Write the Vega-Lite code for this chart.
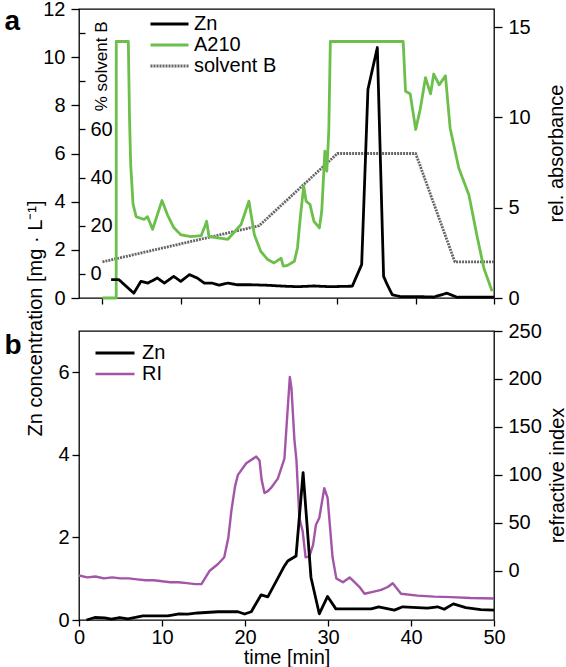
{
  "$schema": "https://vega.github.io/schema/vega-lite/v6.json",
  "background": "white",
  "padding": {"left": 3, "top": -2, "right": 0, "bottom": 0},
  "spacing": 33,
  "bounds": "flush",
  "config": {
    "font": "Liberation Sans",
    "view": {"stroke": "black", "strokeWidth": 1.3},
    "axis": {"grid": false, "domain": false, "labelFlush": false, "tickColor": "black", "tickWidth": 1.3, "labelColor": "black", "titleColor": "black", "labelFontSize": 20, "titleFontSize": 20, "titleFontWeight": "normal", "labelFont": "Liberation Sans", "titleFont": "Liberation Sans"},
    "legend": {"labelFontSize": 20, "labelFont": "Liberation Sans", "labelColor": "black"},
    "line": {"strokeJoin": "round"}
  },
  "datasets": {
    "top": [
      {"s":"Zn","t":1.1,"v":0.76},{"s":"Zn","t":2.1,"v":0.76},{"s":"Zn","t":4.0,"v":0.2},{"s":"Zn","t":4.9,"v":0.69},{"s":"Zn","t":5.8,"v":0.62},{"s":"Zn","t":7.0,"v":0.83},{"s":"Zn","t":7.9,"v":0.62},{"s":"Zn","t":9.1,"v":0.9},{"s":"Zn","t":10,"v":0.69},{"s":"Zn","t":11.1,"v":0.97},{"s":"Zn","t":12.1,"v":0.83},{"s":"Zn","t":13,"v":0.62},{"s":"Zn","t":14,"v":0.62},{"s":"Zn","t":14.9,"v":0.53},{"s":"Zn","t":16,"v":0.62},{"s":"Zn","t":17.2,"v":0.55},{"s":"Zn","t":18.9,"v":0.55},{"s":"Zn","t":21,"v":0.53},{"s":"Zn","t":23.2,"v":0.49},{"s":"Zn","t":25,"v":0.47},{"s":"Zn","t":27,"v":0.5},{"s":"Zn","t":29,"v":0.47},{"s":"Zn","t":31.9,"v":0.49},{"s":"Zn","t":33.1,"v":1.39},{"s":"Zn","t":33.9,"v":8.66},{"s":"Zn","t":35.1,"v":10.4},{"s":"Zn","t":35.9,"v":0.9},{"s":"Zn","t":36.3,"v":0.6},{"s":"Zn","t":37,"v":0.14},{"s":"Zn","t":38,"v":0.06},{"s":"Zn","t":40,"v":0.06},{"s":"Zn","t":42.3,"v":0.04},{"s":"Zn","t":44,"v":0.2},{"s":"Zn","t":45.3,"v":0.03},{"s":"Zn","t":47,"v":0.04},{"s":"Zn","t":50,"v":0.04},
      {"s":"A210","t":0,"v":0},{"s":"A210","t":1.75,"v":0},{"s":"A210","t":1.76,"v":14.2},{"s":"A210","t":3.3,"v":14.2},{"s":"A210","t":3.45,"v":10},{"s":"A210","t":3.6,"v":7.4},{"s":"A210","t":3.9,"v":5.2},{"s":"A210","t":4.3,"v":4.5},{"s":"A210","t":5.3,"v":4.35},{"s":"A210","t":5.75,"v":4.5},{"s":"A210","t":6.4,"v":3.8},{"s":"A210","t":7.0,"v":4.6},{"s":"A210","t":7.6,"v":5.4},{"s":"A210","t":8.3,"v":4.6},{"s":"A210","t":9.1,"v":3.9},{"s":"A210","t":10,"v":3.5},{"s":"A210","t":11.3,"v":3.4},{"s":"A210","t":12.6,"v":3.45},{"s":"A210","t":13.1,"v":4.0},{"s":"A210","t":13.3,"v":4.25},{"s":"A210","t":13.6,"v":3.4},{"s":"A210","t":14.7,"v":3.33},{"s":"A210","t":16,"v":3.25},{"s":"A210","t":17.7,"v":4.07},{"s":"A210","t":18.7,"v":5.36},{"s":"A210","t":19.4,"v":3.5},{"s":"A210","t":20.2,"v":2.59},{"s":"A210","t":21.1,"v":2.13},{"s":"A210","t":21.9,"v":1.94},{"s":"A210","t":22.8,"v":2.2},{"s":"A210","t":23.1,"v":1.76},{"s":"A210","t":23.6,"v":1.8},{"s":"A210","t":24.5,"v":2.03},{"s":"A210","t":24.9,"v":2.77},{"s":"A210","t":25.3,"v":4.62},{"s":"A210","t":25.7,"v":6.19},{"s":"A210","t":26.0,"v":5.36},{"s":"A210","t":26.5,"v":5.18},{"s":"A210","t":27.0,"v":4.25},{"s":"A210","t":27.7,"v":3.88},{"s":"A210","t":28.0,"v":4.8},{"s":"A210","t":28.4,"v":8.13},{"s":"A210","t":28.65,"v":7.02},{"s":"A210","t":28.9,"v":9.24},{"s":"A210","t":29.1,"v":14.2},{"s":"A210","t":38.4,"v":14.2},{"s":"A210","t":38.7,"v":11.45},{"s":"A210","t":39.3,"v":11.3},{"s":"A210","t":40,"v":9.33},{"s":"A210","t":40.6,"v":10.5},{"s":"A210","t":41.25,"v":12.2},{"s":"A210","t":41.9,"v":11.3},{"s":"A210","t":42.3,"v":12.4},{"s":"A210","t":43,"v":11.8},{"s":"A210","t":43.8,"v":12.3},{"s":"A210","t":44.4,"v":9.4},{"s":"A210","t":45.5,"v":7.2},{"s":"A210","t":46.8,"v":5.7},{"s":"A210","t":47.8,"v":3.5},{"s":"A210","t":48.7,"v":1.66},{"s":"A210","t":49.76,"v":0.37},
      {"s":"solvent B","t":0,"v":5},{"s":"solvent B","t":20,"v":20},{"s":"solvent B","t":30,"v":50},{"s":"solvent B","t":40,"v":50},{"s":"solvent B","t":45,"v":5},{"s":"solvent B","t":50,"v":5}
    ],
    "bottom": [
      {"s":"Zn","t":0.9,"v":0},{"s":"Zn","t":1.9,"v":0.06},{"s":"Zn","t":3.1,"v":0.05},{"s":"Zn","t":3.9,"v":0.02},{"s":"Zn","t":4.9,"v":0.06},{"s":"Zn","t":5.9,"v":0.03},{"s":"Zn","t":7.7,"v":0.1},{"s":"Zn","t":10.7,"v":0.1},{"s":"Zn","t":11.9,"v":0.145},{"s":"Zn","t":13.1,"v":0.14},{"s":"Zn","t":14.3,"v":0.17},{"s":"Zn","t":16.75,"v":0.2},{"s":"Zn","t":19.15,"v":0.2},{"s":"Zn","t":19.95,"v":0.145},{"s":"Zn","t":20.75,"v":0.2},{"s":"Zn","t":21.95,"v":0.61},{"s":"Zn","t":22.75,"v":0.56},{"s":"Zn","t":24.75,"v":1.31},{"s":"Zn","t":25.15,"v":1.43},{"s":"Zn","t":26.15,"v":1.55},{"s":"Zn","t":27.0,"v":3.57},{"s":"Zn","t":27.95,"v":1.03},{"s":"Zn","t":28.95,"v":0.15},{"s":"Zn","t":29.95,"v":0.57},{"s":"Zn","t":30.95,"v":0.27},{"s":"Zn","t":35.2,"v":0.27},{"s":"Zn","t":36.1,"v":0.32},{"s":"Zn","t":38,"v":0.24},{"s":"Zn","t":39,"v":0.32},{"s":"Zn","t":42,"v":0.29},{"s":"Zn","t":43.2,"v":0.32},{"s":"Zn","t":44,"v":0.26},{"s":"Zn","t":45.1,"v":0.39},{"s":"Zn","t":46.6,"v":0.3},{"s":"Zn","t":48.4,"v":0.25},{"s":"Zn","t":50,"v":0.24},
      {"s":"RI","t":0,"v":-5},{"s":"RI","t":1,"v":-7},{"s":"RI","t":2,"v":-6},{"s":"RI","t":3,"v":-8},{"s":"RI","t":4,"v":-7},{"s":"RI","t":5,"v":-8},{"s":"RI","t":6,"v":-8},{"s":"RI","t":7,"v":-9},{"s":"RI","t":8,"v":-10},{"s":"RI","t":9,"v":-10},{"s":"RI","t":10,"v":-11},{"s":"RI","t":11,"v":-12},{"s":"RI","t":12,"v":-12},{"s":"RI","t":13,"v":-13},{"s":"RI","t":14,"v":-14},{"s":"RI","t":14.75,"v":-14},{"s":"RI","t":15.75,"v":0},{"s":"RI","t":16.75,"v":7},{"s":"RI","t":17.5,"v":14},{"s":"RI","t":18.0,"v":35},{"s":"RI","t":18.35,"v":62},{"s":"RI","t":18.8,"v":88},{"s":"RI","t":19.15,"v":100},{"s":"RI","t":20.15,"v":112},{"s":"RI","t":21.35,"v":119},{"s":"RI","t":21.75,"v":115},{"s":"RI","t":22.0,"v":95},{"s":"RI","t":22.35,"v":81},{"s":"RI","t":22.75,"v":83},{"s":"RI","t":23.2,"v":87},{"s":"RI","t":23.95,"v":96},{"s":"RI","t":24.75,"v":117},{"s":"RI","t":25.0,"v":150},{"s":"RI","t":25.4,"v":202},{"s":"RI","t":25.6,"v":190},{"s":"RI","t":25.95,"v":137},{"s":"RI","t":26.2,"v":115},{"s":"RI","t":26.55,"v":55},{"s":"RI","t":26.95,"v":41},{"s":"RI","t":27.3,"v":14},{"s":"RI","t":27.75,"v":15},{"s":"RI","t":28.2,"v":27},{"s":"RI","t":28.55,"v":48},{"s":"RI","t":28.95,"v":55},{"s":"RI","t":29.55,"v":86},{"s":"RI","t":29.95,"v":76},{"s":"RI","t":30.55,"v":14},{"s":"RI","t":31,"v":-8},{"s":"RI","t":31.8,"v":-12},{"s":"RI","t":32.6,"v":-7},{"s":"RI","t":33.2,"v":-12},{"s":"RI","t":33.8,"v":-17},{"s":"RI","t":34.4,"v":-24},{"s":"RI","t":35.4,"v":-22},{"s":"RI","t":36.4,"v":-20},{"s":"RI","t":37.2,"v":-17},{"s":"RI","t":37.8,"v":-13},{"s":"RI","t":38.8,"v":-24},{"s":"RI","t":40.8,"v":-26},{"s":"RI","t":42.8,"v":-27},{"s":"RI","t":44.8,"v":-27.5},{"s":"RI","t":47.2,"v":-28.5},{"s":"RI","t":50,"v":-29}
    ]
  },
  "resolve": {
    "scale": {"x": "independent", "color": "independent", "strokeWidth": "independent", "strokeDash": "independent"},
    "legend": {"color": "independent", "strokeWidth": "independent", "strokeDash": "independent"}
  },
  "vconcat": [
    {
      "width": 415,
      "height": 289,
      "data": {"name": "top"},
      "encoding": {
        "x": {"field": "t", "type": "quantitative", "scale": {"domain": [-3, 50], "nice": false, "zero": false}, "axis": {"values": [0, 10, 20, 30, 40, 50], "labels": false, "tickSize": 6, "title": "b", "titleAngle": 0, "titleX": -75, "titleY": 55, "titleAlign": "left", "titleBaseline": "alphabetic", "titleFontSize": 28, "titleFontWeight": "bold"}},
        "color": {"field": "s", "type": "nominal", "scale": {"domain": ["Zn", "A210", "solvent B"], "range": ["#000000", "#6cbf4a", "#666666"]}, "legend": {"orient": "none", "legendX": 70, "legendY": 5, "title": null, "symbolType": "stroke", "symbolSize": 1444, "clipHeight": 20, "rowPadding": 1, "labelOffset": 4, "padding": 0}},
        "strokeWidth": {"field": "s", "type": "nominal", "scale": {"domain": ["Zn", "A210", "solvent B"], "range": [2.8, 2.8, 0.9]}, "legend": {"orient": "none", "legendX": 70, "legendY": 5, "title": null, "symbolType": "stroke", "symbolSize": 1444, "clipHeight": 20, "rowPadding": 1, "labelOffset": 4, "padding": 0}},
        "strokeDash": {"field": "s", "type": "nominal", "scale": {"domain": ["Zn", "A210", "solvent B"], "range": [[1, 0], [1, 0], [2, 1]]}, "legend": {"orient": "none", "legendX": 70, "legendY": 5, "title": null, "symbolType": "stroke", "symbolSize": 1444, "clipHeight": 20, "rowPadding": 1, "labelOffset": 4, "padding": 0}}
      },
      "layer": [
        {
          "transform": [{"filter": "datum.s === 'solvent B'"}],
          "mark": {"type": "line"},
          "encoding": {
            "y": {"field": "v", "type": "quantitative", "scale": {"domain": [-10, 110], "nice": false, "zero": false}, "axis": {"orient": "right", "offset": -415, "values": [0, 20, 40, 60, 80, 100], "labelExpr": "datum.value <= 60 ? datum.label : ''", "tickSize": 6, "labelPadding": 5, "title": "% solvent B", "titleFontSize": 17, "titleAngle": 270, "titleX": 22, "titleY": 12, "titleAlign": "right", "titleBaseline": "middle"}}
          }
        },
        {
          "transform": [{"filter": "datum.s === 'A210'"}],
          "mark": {"type": "line"},
          "encoding": {
            "y": {"field": "v", "type": "quantitative", "scale": {"domain": [0, 16], "nice": false}, "axis": {"orient": "right", "values": [0, 5, 10, 15], "tickSize": 8, "labelPadding": 6, "title": "rel. absorbance", "titleAngle": 270, "titleX": 62, "titleY": 144, "titleAlign": "center", "titleBaseline": "middle"}}
          }
        },
        {
          "transform": [{"filter": "datum.s === 'Zn'"}],
          "mark": {"type": "line"},
          "encoding": {
            "y": {"field": "v", "type": "quantitative", "scale": {"domain": [0, 12], "nice": false}, "axis": {"orient": "left", "values": [0, 2, 4, 6, 8, 10, 12], "tickSize": 8, "labelPadding": 6, "title": "a", "titleAngle": 0, "titleX": -75, "titleY": 20, "titleAlign": "left", "titleBaseline": "alphabetic", "titleFontSize": 28, "titleFontWeight": "bold"}}
          }
        }
      ],
      "resolve": {"scale": {"y": "independent"}}
    },
    {
      "width": 415,
      "height": 289,
      "data": {"name": "bottom"},
      "encoding": {
        "x": {"field": "t", "type": "quantitative", "scale": {"domain": [0, 50], "nice": false}, "axis": {"values": [0, 10, 20, 30, 40, 50], "title": "time [min]", "tickSize": 6, "labelPadding": 1, "titlePadding": 0}},
        "color": {"field": "s", "type": "nominal", "scale": {"domain": ["Zn", "RI"], "range": ["#000000", "#a356a7"]}, "legend": {"orient": "none", "legendX": 15, "legendY": 12, "title": null, "symbolType": "stroke", "symbolSize": 1521, "clipHeight": 20, "rowPadding": 1, "labelOffset": 6, "padding": 0}},
        "strokeWidth": {"field": "s", "type": "nominal", "scale": {"domain": ["Zn", "RI"], "range": [2.8, 2.4]}, "legend": {"orient": "none", "legendX": 15, "legendY": 12, "title": null, "symbolType": "stroke", "symbolSize": 1521, "clipHeight": 20, "rowPadding": 1, "labelOffset": 6, "padding": 0}}
      },
      "layer": [
        {
          "transform": [{"filter": "datum.s === 'RI'"}],
          "mark": {"type": "line"},
          "encoding": {
            "y": {"field": "v", "type": "quantitative", "scale": {"domain": [-51.4, 250], "nice": false, "zero": false}, "axis": {"orient": "right", "values": [0, 50, 100, 150, 200, 250], "tickSize": 8, "labelPadding": 6, "title": "refractive index", "titleAngle": 270, "titleX": 63, "titleY": 144, "titleAlign": "center", "titleBaseline": "middle"}}
          }
        },
        {
          "transform": [{"filter": "datum.s === 'Zn'"}],
          "mark": {"type": "line"},
          "encoding": {
            "y": {"field": "v", "type": "quantitative", "scale": {"domain": [0, 7], "nice": false}, "axis": {"orient": "left", "values": [0, 2, 4, 6], "tickSize": 7, "labelPadding": 3, "title": "Zn concentration [mg · L⁻¹]", "titleAngle": 270, "titleX": -44, "titleY": -13, "titleAlign": "center", "titleBaseline": "middle"}}
          }
        }
      ],
      "resolve": {"scale": {"y": "independent"}}
    }
  ]
}
